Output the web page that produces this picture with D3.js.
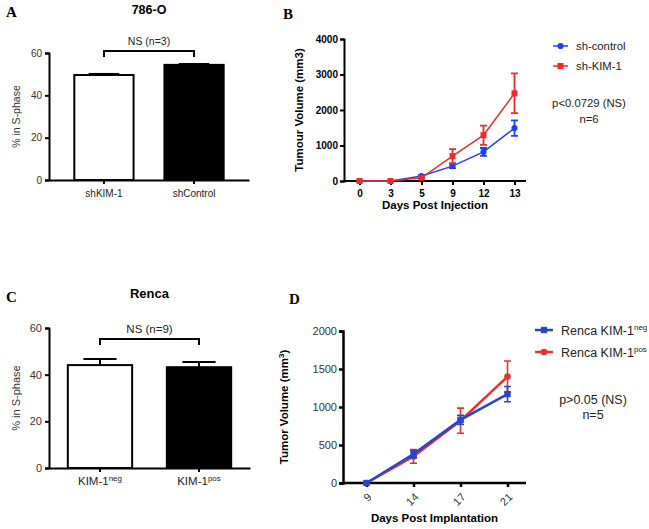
<!DOCTYPE html>
<html><head><meta charset="utf-8">
<script src="https://cdn.jsdelivr.net/npm/d3@7"></script>
<style>
body{margin:0;background:#fff;}
svg{font-family:"Liberation Sans",Arial,sans-serif;}
</style></head>
<body><svg id="c" width="649" height="529"></svg>
<script>
// Panel A
const aCats = ["shKIM-1","shControl"];
const aVals = [49.6, 54.4];
const aErr = [0.5, 0.4];
const aFill = ["#ffffff","#000000"];
const aTicks = [0,20,40,60];
// Panel B
const bDays = ["0","3","5","9","12","13"];
const bControl = [0, 0, 140, 420, 820, 1490];
const bControlErr = [0, 0, 30, 60, 110, 220];
const bKIM = [0, 0, 90, 700, 1290, 2470];
const bKIMErr = [0, 0, 30, 200, 270, 560];
const bTicks = [0,1000,2000,3000,4000];
// Panel C
const cCats = ["neg","pos"];
const cVals = [44.1, 43.2];
const cErr = [2.6, 2.2];
const cTicks = [0,20,40,60];
// Panel D
const dDays = ["9","14","17","21"];
const dNeg = [0, 380, 830, 1170];
const dNegErr = [0, 50, 60, 100];
const dPos = [0, 350, 820, 1400];
const dPosErr = [0, 90, 165, 205];
const dTicks = [0,500,1000,1500,2000];

const svg = d3.select("#c");
const BLUE = "#1f3fff", RED = "#ee2a2a";
const DBLUE = "#2a45c8", DRED = "#ee2e2e";

function panelLetter(t,x,y){
  svg.append("text").attr("x",x).attr("y",y).text(t)
    .attr("font-family","'Liberation Serif','Times New Roman',serif")
    .attr("font-weight","bold").attr("font-size",15);
}
function styleAxis(g, w, fs){
  g.selectAll("path,line").attr("stroke","#000").attr("stroke-width",w);
  g.selectAll("text").attr("fill","#000").attr("font-size",fs||10);
}

// ---------- Bar panels ----------
function barPanel(o){
  const x = d3.scaleBand().domain(o.cats).range(o.xr).paddingInner(o.pi).paddingOuter(o.po);
  const y = d3.scaleLinear().domain([0,60]).range(o.yr);
  const g = svg.append("g");
  o.cats.forEach((c,i)=>{
    const cx = x(c)+x.bandwidth()/2;
    const hw = x.bandwidth()*0.25;
    g.append("line").attr("x1",cx).attr("x2",cx).attr("y1",y(o.vals[i])).attr("y2",y(o.vals[i]+o.err[i]))
      .attr("stroke","#000").attr("stroke-width",2);
    g.append("line").attr("x1",cx-hw).attr("x2",cx+hw).attr("y1",y(o.vals[i]+o.err[i])).attr("y2",y(o.vals[i]+o.err[i]))
      .attr("stroke","#000").attr("stroke-width",2);
  });
  g.selectAll("rect.bar").data(o.cats).join("rect")
    .attr("x",d=>x(d)+1).attr("width",x.bandwidth()-2)
    .attr("y",(d,i)=>y(o.vals[i])).attr("height",(d,i)=>y(0)-y(o.vals[i]))
    .attr("fill",(d,i)=>aFill[i]).attr("stroke","#000").attr("stroke-width",2);
  const ya = g.append("g").attr("transform",`translate(${o.xr[0]},0)`)
    .call(d3.axisLeft(y).tickValues(o.ticks).tickSize(4).tickPadding(3));
  styleAxis(ya,2,o.tickFs); ya.selectAll("text").attr("fill","#333");
  const xa = g.append("g").attr("transform",`translate(0,${o.yr[0]})`)
    .call(d3.axisBottom(x).tickSize(4).tickPadding(4).tickSizeOuter(0).tickFormat(()=>""));
  styleAxis(xa,2);
  o.cats.forEach((c,i)=>{
    const t = g.append("text").attr("x",x(c)+x.bandwidth()/2).attr("y",o.yr[0]+17)
      .attr("text-anchor","middle").attr("font-size",o.labFs).attr("fill","#222");
    o.label(t,c);
  });
  g.append("text").attr("transform",`translate(${o.ytx},${(o.yr[0]+o.yr[1])/2}) rotate(-90)`)
    .attr("text-anchor","middle").attr("font-size",o.ytFs).attr("fill","#333").text("% in S-phase");
  const bx1 = x(o.cats[0])+x.bandwidth()/2, bx2 = x(o.cats[1])+x.bandwidth()/2;
  g.append("path").attr("d",`M${bx1},${o.by+6}V${o.by}H${bx2}V${o.by+6}`)
    .attr("fill","none").attr("stroke","#000").attr("stroke-width",2);
  g.append("text").attr("x",(bx1+bx2)/2).attr("y",o.by-6).attr("text-anchor","middle")
    .attr("font-size",o.nsFs).attr("fill","#222").text(o.ns);
  g.append("text").attr("x",(bx1+bx2)/2).attr("y",o.ty).attr("text-anchor","middle")
    .attr("font-size",o.titleFs).attr("font-weight","bold").text(o.title);
}

barPanel({cats:aCats, vals:aVals, err:aErr, xr:[49,249], yr:[180,53], pi:0.32, po:0.27,
  ticks:aTicks, ytx:20, by:51, ns:"NS (n=3)", title:"786-O", ty:14,
  tickFs:10, labFs:10, ytFs:10.5, nsFs:10.5, titleFs:12.5,
  label:(t,c)=>t.text(c)});
barPanel({cats:cCats, vals:cVals, err:cErr, xr:[49,250], yr:[468,328], pi:0.33, po:0.18,
  ticks:cTicks, ytx:20, by:339, ns:"NS (n=9)", title:"Renca", ty:298,
  tickFs:11, labFs:11.5, ytFs:11, nsFs:11.5, titleFs:13,
  label:(t,c)=>{t.append("tspan").text("KIM-1"); t.append("tspan").attr("dy",-4).attr("font-size",8).text(c);}});

panelLetter("A",6,17);
panelLetter("C",6,302);
panelLetter("B",283,19);
panelLetter("D",289,304);

// ---------- Line panels ----------
function linePanel(o){
  const x = d3.scalePoint().domain(o.days).range(o.xr).padding(0.5);
  const y = d3.scaleLinear().domain([0,o.ymax]).range(o.yr);
  const g = svg.append("g");
  const ya = g.append("g").attr("transform",`translate(${o.xr[0]},0)`)
    .call(d3.axisLeft(y).tickValues(o.ticks).tickSize(4).tickPadding(2).tickFormat(d3.format("d")));
  styleAxis(ya,o.aw,o.tickFs);
  ya.selectAll("text").attr("font-weight",o.tickBold?"bold":"normal").attr("fill",o.tickBold?"#000":"#333");
  const xa = g.append("g").attr("transform",`translate(0,${o.yr[0]})`)
    .call(d3.axisBottom(x).tickSize(4).tickPadding(5).tickSizeOuter(0).tickFormat(o.rot?()=>"":null));
  styleAxis(xa,o.aw,o.tickFs);
  xa.select(".domain").attr("d",`M${o.xr[0]},0H${o.xEnd}`);
  xa.selectAll("text").attr("font-weight",o.tickBold?"bold":"normal").attr("fill",o.tickBold?"#000":"#333");
  if(o.rot){
    o.days.forEach(d=>{
      g.append("text").attr("text-anchor","end").attr("dy","0.35em")
        .attr("transform",`translate(${x(d)+3},${o.yr[0]+12}) rotate(-45)`)
        .attr("font-size",o.tickFs).attr("fill","#333").text(d);
    });
  }
  o.series.forEach(s=>{
    const line = d3.line().x((d,i)=>x(o.days[i])).y(d=>y(d));
    g.append("path").datum(s.vals).attr("d",line).attr("fill","none")
      .attr("stroke",s.color).attr("stroke-width",o.lw);
    s.vals.forEach((v,i)=>{
      const e = s.err[i]; if(!e) return;
      const cx = x(o.days[i]);
      g.append("path").attr("d",`M${cx-3.5},${y(v+e)}H${cx+3.5}M${cx},${y(v+e)}V${y(v-e)}M${cx-3.5},${y(v-e)}H${cx+3.5}`)
        .attr("stroke",s.color).attr("stroke-width",o.ew).attr("fill","none");
    });
    g.selectAll(null).data(s.vals).join("path")
      .attr("transform",(d,i)=>`translate(${x(o.days[i])},${y(d)})`)
      .attr("d",d3.symbol().type(s.sym).size(s.size))
      .attr("fill",s.color);
  });
  g.append("text").attr("x",(o.xr[0]+o.xEnd)/2).attr("y",o.xty).attr("text-anchor","middle")
    .attr("font-weight","bold").attr("font-size",o.titleSize).text(o.xTitle);
  const yt = g.append("text").attr("transform",`translate(${o.ytx},${(o.yr[0]+o.yr[1])/2}) rotate(-90)`)
    .attr("text-anchor","middle").attr("font-weight","bold").attr("font-size",o.titleSize);
  o.yTitle(yt);
  o.legOrder.forEach((si,i)=>{
    const s = o.series[si];
    const ly = o.legY + i*o.legDy;
    g.append("line").attr("x1",o.legX).attr("x2",o.legX+o.legW).attr("y1",ly).attr("y2",ly)
      .attr("stroke",s.color).attr("stroke-width",o.lw);
    g.append("path").attr("transform",`translate(${o.legX+o.legW/2},${ly})`)
      .attr("d",d3.symbol().type(s.sym).size(s.size)).attr("fill",s.color);
    const t = g.append("text").attr("x",o.legX+o.legW+8).attr("y",ly+o.legFs*0.36).attr("font-size",o.legFs).attr("fill","#222");
    s.label(t);
  });
  o.note.forEach((n,i)=>{
    g.append("text").attr("x",o.noteX).attr("y",o.noteY+i*o.noteDy).attr("text-anchor","middle")
      .attr("font-size",o.legFs).attr("fill","#222").text(n);
  });
}

linePanel({days:bDays, xr:[344,530], xEnd:526, yr:[181,39], ymax:4000, ticks:bTicks, aw:2, lw:1.5, ew:1.8,
  tickBold:true, tickFs:10, rot:false, titleSize:11.5, xTitle:"Days Post Injection", xty:209, ytx:303,
  yTitle:t=>t.text("Tumour Volume (mm3)"),
  series:[
    {vals:bControl, err:bControlErr, color:BLUE, sym:d3.symbolCircle, size:30, label:t=>t.text("sh-control")},
    {vals:bKIM, err:bKIMErr, color:RED, sym:d3.symbolSquare, size:36, label:t=>t.text("sh-KIM-1")}
  ], legOrder:[0,1], legFs:11.3,
  legX:553, legW:15, legY:46, legDy:20, note:["p<0.0729 (NS)","n=6"], noteX:589, noteY:107, noteDy:16});

linePanel({days:dDays, xr:[343,531], xEnd:526, yr:[483,331], ymax:2000, ticks:dTicks, aw:2.5, lw:2.5, ew:1.6,
  tickBold:false, tickFs:11, rot:true, titleSize:11.5, xTitle:"Days Post Implantation", xty:522, ytx:288,
  yTitle:t=>{t.append("tspan").text("Tumor Volume (mm"); t.append("tspan").attr("dy",-4).attr("font-size",8).text("3"); t.append("tspan").attr("dy",4).text(")");},
  series:[
    {vals:dPos, err:dPosErr, color:DRED, sym:d3.symbolCircle, size:34, label:t=>{t.text("Renca KIM-1"); t.append("tspan").attr("dy",-5).attr("font-size",8).text("pos");}},
    {vals:dNeg, err:dNegErr, color:DBLUE, sym:d3.symbolSquare, size:40, label:t=>{t.text("Renca KIM-1"); t.append("tspan").attr("dy",-5).attr("font-size",8).text("neg");}}
  ], legOrder:[1,0], legFs:12.5,
  legX:535, legW:18, legY:330, legDy:22, note:["p>0.05 (NS)","n=5"], noteX:593, noteY:404, noteDy:15});
</script></body></html>
